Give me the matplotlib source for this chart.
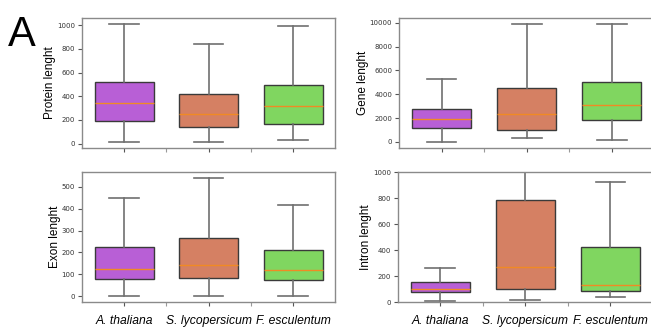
import matplotlib

matplotlib.use("Agg")

import matplotlib.pyplot as plt


SPECIES = ["A. thaliana", "S. lycopersicum", "F. esculentum"]
COLORS = ["#b85fd6", "#d58063", "#80d660"]

# five-number summaries: low whisker, Q1, median, Q3, high whisker
PROTEIN_LOW = [15, 15, 30]
PROTEIN_Q1 = [195, 140, 165]
PROTEIN_MED = [345, 250, 315]
PROTEIN_Q3 = [520, 420, 495]
PROTEIN_HIGH = [1010, 840, 990]

GENE_LOW = [0, 300, 200]
GENE_Q1 = [1150, 1000, 1800]
GENE_MED = [1900, 2350, 3100]
GENE_Q3 = [2800, 4550, 5050]
GENE_HIGH = [5300, 9850, 9900]

EXON_LOW = [0, 0, 2]
EXON_Q1 = [78, 85, 73]
EXON_MED = [125, 142, 118]
EXON_Q3 = [225, 267, 212]
EXON_HIGH = [447, 540, 415]

INTRON_LOW = [5, 12, 40]
INTRON_Q1 = [80, 100, 85]
INTRON_MED = [100, 270, 130]
INTRON_Q3 = [155, 785, 420]
INTRON_HIGH = [265, 1100, 925]

PANELS = [
    ("Protein lenght", PROTEIN_LOW, PROTEIN_Q1, PROTEIN_MED, PROTEIN_Q3, PROTEIN_HIGH, None),
    ("Gene lenght", GENE_LOW, GENE_Q1, GENE_MED, GENE_Q3, GENE_HIGH, None),
    ("Exon lenght", EXON_LOW, EXON_Q1, EXON_MED, EXON_Q3, EXON_HIGH, None),
    ("Intron lenght", INTRON_LOW, INTRON_Q1, INTRON_MED, INTRON_Q3, INTRON_HIGH, (0, 1000)),
]

AXES_RECTS = [
    (0.126, 0.556, 0.389, 0.390),
    (0.613, 0.556, 0.392, 0.390),
    (0.126, 0.093, 0.389, 0.390),
    (0.611, 0.093, 0.392, 0.390),
]

SPINE = "#8a8a8a"
TEXT = "#333333"


def main() -> None:
    fig = plt.figure(figsize=(6.51, 3.33), dpi=100, facecolor="white")

    for idx, (label, low, q1, med, q3, high, ylim) in enumerate(PANELS):
        ax = fig.add_axes(AXES_RECTS[idx])
        stats = [
            {"whislo": lo, "q1": a, "med": m, "q3": b, "whishi": hi, "fliers": []}
            for lo, a, m, b, hi in zip(low, q1, med, q3, high)
        ]
        parts = ax.bxp(
            stats,
            positions=range(len(SPECIES)),
            widths=0.7,
            capwidths=0.35,
            patch_artist=True,
            showfliers=False,
            boxprops={"edgecolor": "#3a3a3a", "linewidth": 1.0},
            medianprops={"color": "#f08a24", "linewidth": 1.0},
            whiskerprops={"color": "#707070", "linewidth": 1.2},
            capprops={"color": "#707070", "linewidth": 1.2},
        )
        for box, color in zip(parts["boxes"], COLORS):
            box.set_facecolor(color)

        ax.set_xlim(-0.5, 2.5)
        if ylim is not None:
            ax.set_ylim(*ylim)

        ax.set_xticks(range(len(SPECIES)))
        ax.set_xticks([0.5, 1.5], minor=True)
        ax.tick_params(axis="x", which="minor", length=3, color="#999999", width=0.8)
        ax.tick_params(axis="both", which="major", length=3, color="#555555", width=0.8,
                       labelsize=5, labelcolor=TEXT, pad=2)
        if idx >= 2:
            ax.set_xticklabels(SPECIES, fontsize=8.7, style="italic",
                               family="Liberation Sans", color="black")
            ax.tick_params(axis="x", which="major", pad=6.5)
        else:
            ax.set_xticklabels([])

        ax.set_ylabel(label, fontsize=8.5, family="Liberation Sans", color="black", labelpad=0.5)

        for spine in ax.spines.values():
            spine.set_color(SPINE)
            spine.set_linewidth(1.0)

    fig.text(0.012, 0.955, "A", fontsize=30, family="Liberation Sans",
             ha="left", va="top", color="black")

    fig.savefig("out.png", dpi=100)
    plt.close(fig)


if __name__ == "__main__":
    main()
